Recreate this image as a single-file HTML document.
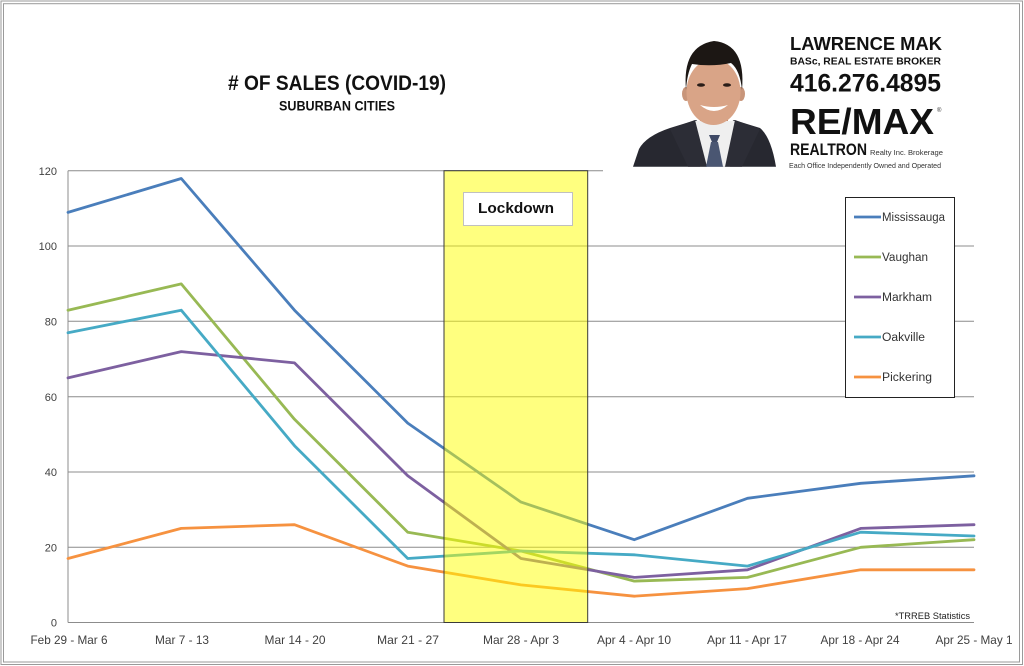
<!DOCTYPE html>
<html><head><meta charset="utf-8"><style>
html,body{margin:0;padding:0;background:#fff;width:1024px;height:666px;overflow:hidden}
svg{display:block}
text{font-family:"Liberation Sans",Arial,sans-serif}
</style></head><body>
<svg width="1024" height="666" viewBox="0 0 1024 666" xmlns="http://www.w3.org/2000/svg">
<rect x="0" y="0" width="1024" height="666" fill="#fff"/>
<!-- frame -->
<rect x="1" y="1" width="1021.5" height="663.5" fill="none" stroke="#9a9a9a" stroke-width="1"/>
<rect x="3.5" y="3.7" width="1016" height="658.3" fill="none" stroke="#9a9a9a" stroke-width="1"/>

<!-- gridlines -->
<g stroke="#8c8c8c" stroke-width="1">
<line x1="68" y1="170.7" x2="974" y2="170.7"/>
<line x1="68" y1="246" x2="974" y2="246"/>
<line x1="68" y1="321.3" x2="974" y2="321.3"/>
<line x1="68" y1="396.7" x2="974" y2="396.7"/>
<line x1="68" y1="472" x2="974" y2="472"/>
<line x1="68" y1="547.3" x2="974" y2="547.3"/>
<line x1="68" y1="622.5" x2="974" y2="622.5"/>
<line x1="68" y1="170.7" x2="68" y2="622.5"/>
</g>

<!-- series -->
<g fill="none" stroke-width="2.8" stroke-linejoin="round" stroke-linecap="round">
<polyline stroke="#4A7EBB" points="68,212.4 181.25,178.5 294.5,310.2 407.75,423.1 521,502.1 634.25,539.7 747.5,498.3 860.75,483.3 974,475.8"/>
<polyline stroke="#98B954" points="68,310.2 181.25,283.9 294.5,419.3 407.75,532.2 521,551 634.25,581.1 747.5,577.4 860.75,547.3 974,539.7"/>
<polyline stroke="#7D60A0" points="68,377.9 181.25,351.6 294.5,362.9 407.75,475.8 521,558.5 634.25,577.4 747.5,569.8 860.75,528.4 974,524.7"/>
<polyline stroke="#46AAC5" points="68,332.8 181.25,310.2 294.5,445.7 407.75,558.5 521,551 634.25,554.8 747.5,566.1 860.75,532.2 974,536"/>
<polyline stroke="#F69240" points="68,558.5 181.25,528.4 294.5,524.7 407.75,566.1 521,584.9 634.25,596.2 747.5,588.6 860.75,569.8 974,569.8"/>
</g>

<!-- lockdown band -->
<rect x="444" y="170.7" width="143.7" height="451.8" fill="#ffff00" fill-opacity="0.5" stroke="#3a3a3a" stroke-width="1"/>
<rect x="463.5" y="192.5" width="109" height="33" fill="#fff" stroke="#c0c0c0" stroke-width="1"/>
<text x="478" y="213" font-size="15" font-weight="bold" fill="#111" textLength="76" lengthAdjust="spacingAndGlyphs">Lockdown</text>

<!-- photo block -->
<rect x="603" y="6" width="410" height="166" fill="#fff"/>
<g>
<rect x="700" y="104" width="28" height="26" fill="#c38c72"/>
<path d="M633,166.7 L639,149 Q646,136 670,128 L696,120 L714,134 L734,120 L760,128 Q771,137 776,166.7 Z" fill="#272830"/>
<polygon points="694,121 736,121 730,166.7 700,166.7" fill="#efefef"/>
<polygon points="670,129 695,120 707,166.7 688,166.7" fill="#2c2d36"/>
<polygon points="735,120 760,129 742,166.7 725,166.7" fill="#2c2d36"/>
<polygon points="709,135 720,135 717,142 712,142" fill="#3f4a66"/>
<polygon points="711,142 718,142 723,166.7 706,166.7" fill="#4a5672"/>
<ellipse cx="686" cy="94" rx="4" ry="7" fill="#c8957a"/>
<ellipse cx="741" cy="94" rx="4" ry="7" fill="#c8957a"/>
<ellipse cx="713.5" cy="92" rx="27" ry="33" fill="#d9a487"/>
<path d="M686,90 Q682,46 714,41 Q746,44 742,90 Q740,70 731,63 Q712,67 692,64 Q687,74 686,90 Z" fill="#1c1714"/>
<ellipse cx="701" cy="85" rx="4" ry="1.8" fill="#2a1d18"/>
<ellipse cx="727" cy="85" rx="4" ry="1.8" fill="#2a1d18"/>
<path d="M700,105 Q714,117 728,105 Q714,109 700,105 Z" fill="#fff"/>
</g>
<text x="790" y="50" font-size="18" font-weight="bold" fill="#111" textLength="152" lengthAdjust="spacingAndGlyphs">LAWRENCE MAK</text>
<text x="790" y="64.5" font-size="10.5" font-weight="bold" fill="#111" textLength="151" lengthAdjust="spacingAndGlyphs">BASc, REAL ESTATE BROKER</text>
<text x="790" y="91.5" font-size="25" font-weight="bold" fill="#111" textLength="151" lengthAdjust="spacingAndGlyphs">416.276.4895</text>
<text x="790" y="134" font-size="36" font-weight="bold" fill="#111" textLength="144" lengthAdjust="spacingAndGlyphs">RE/MAX</text>
<text x="937" y="112" font-size="6" fill="#333">®</text>
<text x="790" y="155" font-size="17" font-weight="bold" fill="#111" textLength="77" lengthAdjust="spacingAndGlyphs">REALTRON</text>
<text x="870" y="155" font-size="7.5" fill="#333" textLength="73" lengthAdjust="spacingAndGlyphs">Realty Inc. Brokerage</text>
<text x="789" y="168" font-size="7.5" fill="#333" textLength="152" lengthAdjust="spacingAndGlyphs">Each Office Independently Owned and Operated</text>

<!-- title -->
<text x="228" y="90" font-size="21" font-weight="bold" fill="#111" textLength="218" lengthAdjust="spacingAndGlyphs"># OF SALES (COVID-19)</text>
<text x="279" y="110.7" font-size="13.5" font-weight="bold" fill="#111" textLength="116" lengthAdjust="spacingAndGlyphs">SUBURBAN CITIES</text>

<!-- legend -->
<rect x="845.5" y="197.5" width="109" height="200" fill="#fff" stroke="#222" stroke-width="1"/>
<g stroke-width="2.8">
<line x1="854" y1="217" x2="881" y2="217" stroke="#4A7EBB"/>
<line x1="854" y1="257" x2="881" y2="257" stroke="#98B954"/>
<line x1="854" y1="297" x2="881" y2="297" stroke="#7D60A0"/>
<line x1="854" y1="337" x2="881" y2="337" stroke="#46AAC5"/>
<line x1="854" y1="377" x2="881" y2="377" stroke="#F69240"/>
</g>
<g font-size="11.5" fill="#333">
<text x="882" y="221" textLength="63" lengthAdjust="spacingAndGlyphs">Mississauga</text>
<text x="882" y="261" textLength="46" lengthAdjust="spacingAndGlyphs">Vaughan</text>
<text x="882" y="301" textLength="50" lengthAdjust="spacingAndGlyphs">Markham</text>
<text x="882" y="341" textLength="43" lengthAdjust="spacingAndGlyphs">Oakville</text>
<text x="882" y="381" textLength="50" lengthAdjust="spacingAndGlyphs">Pickering</text>
</g>

<!-- y labels -->
<g font-size="11" fill="#404040" text-anchor="end">
<text x="57" y="175">120</text>
<text x="57" y="250">100</text>
<text x="57" y="325.5">80</text>
<text x="57" y="401">60</text>
<text x="57" y="476">40</text>
<text x="57" y="551.5">20</text>
<text x="57" y="626.5">0</text>
</g>

<!-- x labels -->
<g font-size="12" fill="#404040" text-anchor="middle">
<text x="69" y="644" textLength="77" lengthAdjust="spacingAndGlyphs">Feb 29 - Mar 6</text>
<text x="182" y="644" textLength="54" lengthAdjust="spacingAndGlyphs">Mar 7 - 13</text>
<text x="295" y="644" textLength="61" lengthAdjust="spacingAndGlyphs">Mar 14 - 20</text>
<text x="408" y="644" textLength="62" lengthAdjust="spacingAndGlyphs">Mar 21 - 27</text>
<text x="521" y="644" textLength="76" lengthAdjust="spacingAndGlyphs">Mar 28 - Apr 3</text>
<text x="634" y="644" textLength="74" lengthAdjust="spacingAndGlyphs">Apr 4 - Apr 10</text>
<text x="747" y="644" textLength="80" lengthAdjust="spacingAndGlyphs">Apr 11 - Apr 17</text>
<text x="860" y="644" textLength="79" lengthAdjust="spacingAndGlyphs">Apr 18 - Apr 24</text>
<text x="974" y="644" textLength="77" lengthAdjust="spacingAndGlyphs">Apr 25 - May 1</text>
</g>

<text x="895" y="619" font-size="9" fill="#222" textLength="75" lengthAdjust="spacingAndGlyphs">*TRREB Statistics</text>
</svg>
</body></html>
